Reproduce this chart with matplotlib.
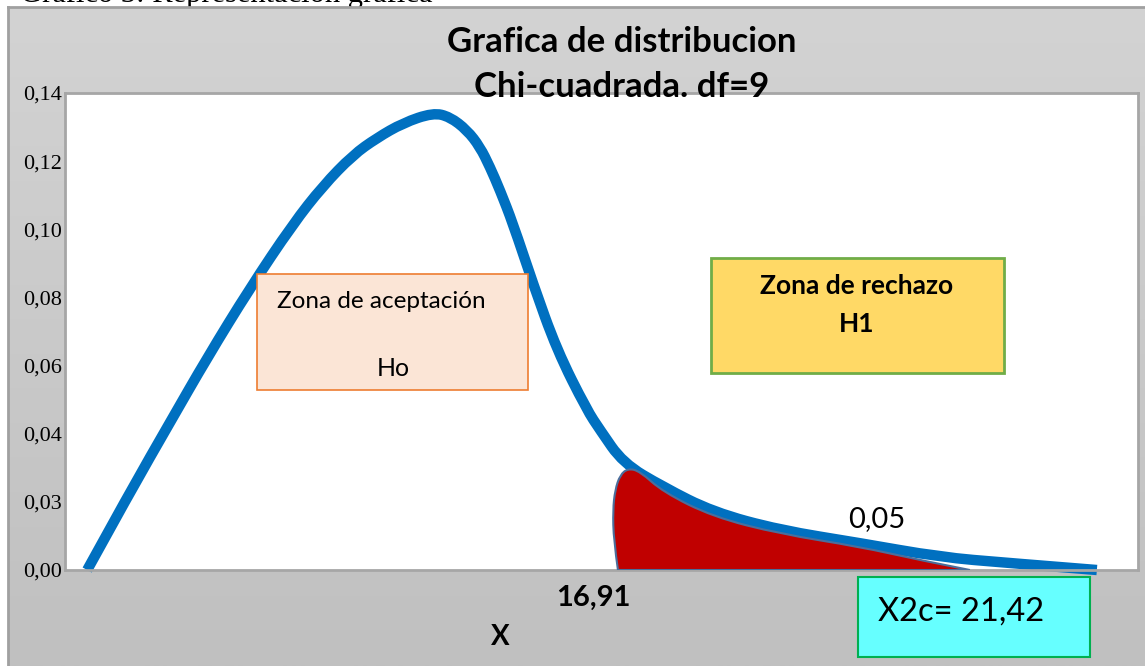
import numpy as np
import matplotlib.pyplot as plt
from matplotlib.patches import Rectangle, PathPatch
from matplotlib.path import Path

# curva chi-cuadrada
x_curva = [0.62, 1.82, 2.94, 3.97, 5.17, 6.37, 7.21, 8.05, 8.72, 9.45, 10.29, 10.76,
           11.24, 11.60, 11.88, 12.16, 12.52, 13.08, 13.75, 14.59, 14.96, 15.60,
           16.72, 18.12, 19.99, 22.23, 24.46, 26.34, 28.85]
y_curva = [0.000, 0.0229, 0.0434, 0.0622, 0.0827, 0.1015, 0.1127, 0.1218, 0.1268, 0.1312,
           0.1342, 0.1330, 0.1291, 0.1242, 0.1183, 0.1115, 0.1018, 0.0842, 0.0646,
           0.0470, 0.0411, 0.0314, 0.0244, 0.0170, 0.0117, 0.0079, 0.0038, 0.0021, 0.000]

# zona de rechazo (area roja)
x_rechazo = [15.46, 15.34, 15.32, 15.38, 15.52, 15.74, 16.07, 16.72, 18.12, 19.99,
             22.23, 23.90, 25.30]
y_rechazo = [0.0, 0.0088, 0.0176, 0.0235, 0.0279, 0.0298, 0.0290, 0.0229, 0.0156,
             0.0106, 0.0068, 0.0029, 0.0]

y_ticks = [0.00, 0.02, 0.04, 0.06, 0.08, 0.10, 0.12, 0.14]
y_labels = ['0,00', '0,03', '0,04', '0,06', '0,08', '0,10', '0,12', '0,14']


def suave(xs, ys, cerrar=False):
    # trazo suavizado (como la linea suavizada de Excel)
    p = np.column_stack([xs, ys])
    verts = [p[0]]
    codes = [Path.MOVETO]
    for i in range(1, len(p) - 1):
        fin = p[-1] if i == len(p) - 2 else (p[i] + p[i + 1]) / 2
        verts += [p[i], fin]
        codes += [Path.CURVE3, Path.CURVE3]
    if cerrar:
        verts.append(p[0])
        codes.append(Path.CLOSEPOLY)
    return Path(verts, codes)


W, H = 1145, 666
fig = plt.figure(figsize=(W / 100, H / 100), dpi=100)
fig.patch.set_facecolor('white')

def fx(px):
    return px / W

def fy(py):
    return 1 - py / H

# texto del documento, cortado arriba
fig.text(fx(20), fy(2), 'Gráfico 3: Representación gráfica', fontsize=22,
         family='Liberation Serif', va='baseline', ha='left', zorder=-1)

# fondo gris del grafico
bg = fig.add_axes([fx(8), 0, 1 - fx(8), 1 - 7 / H], zorder=0)
grad = np.linspace(0, 1, 256).reshape(-1, 1)
bg.imshow(grad, aspect='auto', cmap=plt.matplotlib.colors.LinearSegmentedColormap.from_list(
    'g', ['#d3d3d3', '#c0c0c0']), extent=[0, 1, 0, 1], origin='upper')
bg.set_xlim(0, 1)
bg.set_ylim(0, 1)
bg.set_xticks([])
bg.set_yticks([])
for s in ['right', 'bottom']:
    bg.spines[s].set_visible(False)
for s in ['top', 'left']:
    bg.spines[s].set_color('#a0a0a0')
    bg.spines[s].set_linewidth(2)

ax = fig.add_axes([fx(65), fy(570), fx(1138 - 65), (570 - 93) / H], zorder=1)
ax.set_facecolor('white')
ax.add_patch(PathPatch(suave(x_curva, y_curva), fill=False, edgecolor='#0070c0',
                       linewidth=7.5, capstyle='butt', joinstyle='round', clip_on=False,
                       zorder=2))
ax.add_patch(PathPatch(suave(x_rechazo, y_rechazo, cerrar=True), facecolor='#c00000',
                       edgecolor='#4a6e9c', linewidth=1.5, zorder=3))
ax.set_xlim(0, 30)
ax.set_ylim(0, 0.14)
ax.set_xticks([])
ax.set_yticks(y_ticks)
ax.set_yticklabels(y_labels, family='Liberation Serif', fontsize=16)
ax.tick_params(axis='y', length=0, pad=2)
for s in ax.spines.values():
    s.set_color('#a6a6a6')
    s.set_linewidth(2)

# titulo
fig.text(fx(622), fy(42), 'Grafica de distribucion', fontsize=25, fontweight='bold',
         family='Lato', ha='center', va='center', zorder=5)
fig.text(fx(622), fy(87), 'Chi-cuadrada. df=9', fontsize=25, fontweight='bold',
         family='Lato', ha='center', va='center', zorder=5)

# cuadros de texto
fig.add_artist(Rectangle((fx(257), fy(390)), fx(271), 116 / H, transform=fig.transFigure,
                         facecolor='#fbe5d6', edgecolor='#ed7d31', linewidth=1.2, zorder=4))
fig.text(fx(277), fy(302), 'Zona de aceptación', fontsize=17.5, family='Lato',
         ha='left', va='center', zorder=5)
fig.text(fx(393), fy(368), 'Ho', fontsize=18, family='Lato', ha='center', va='center', zorder=5)

fig.add_artist(Rectangle((fx(711), fy(373)), fx(293), 115 / H, transform=fig.transFigure,
                         facecolor='#ffd966', edgecolor='#70ad47', linewidth=2, zorder=4))
fig.text(fx(857), fy(286), 'Zona de rechazo', fontsize=19, fontweight='bold', family='Lato',
         ha='center', va='center', zorder=5)
fig.text(fx(857), fy(324), 'H1', fontsize=19, fontweight='bold', family='Lato',
         ha='center', va='center', zorder=5)

fig.text(fx(877), fy(519), '0,05', fontsize=21, family='Lato', ha='center', va='center', zorder=5)
fig.text(fx(593), fy(598), '16,91', fontsize=21, fontweight='bold', family='Lato',
         ha='center', va='center', zorder=5)
fig.text(fx(500), fy(637), 'X', fontsize=20, fontweight='bold', family='Lato',
         ha='center', va='center', zorder=5)

fig.add_artist(Rectangle((fx(858), fy(657)), fx(232), 80 / H, transform=fig.transFigure,
                         facecolor='#66ffff', edgecolor='#00b050', linewidth=1.5, zorder=4))
fig.text(fx(878), fy(612), 'X2c= 21,42', fontsize=23.5, family='Lato', ha='left', va='center',
         zorder=5)

fig.savefig('out.png', dpi=100)
